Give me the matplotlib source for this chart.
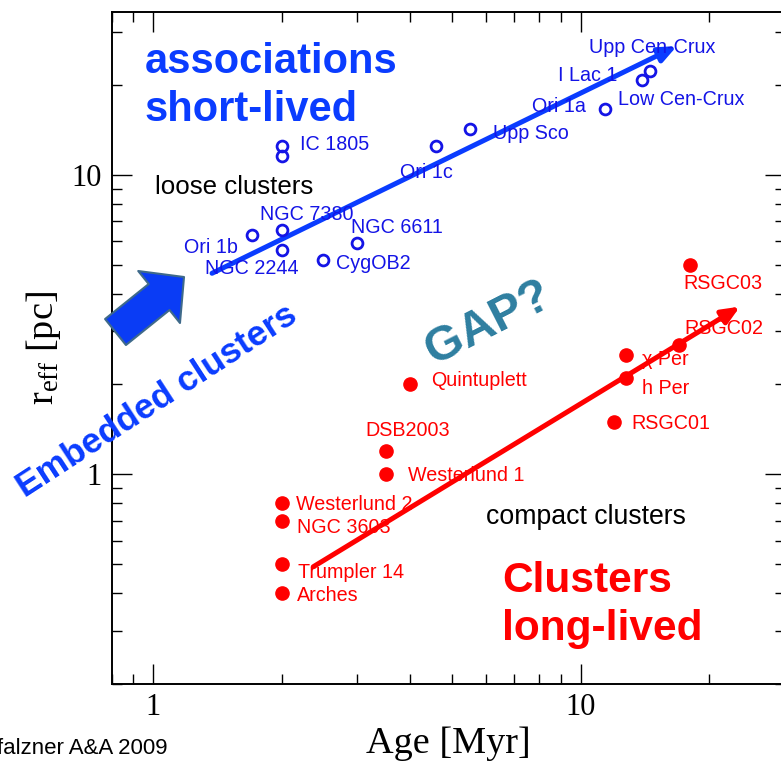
import matplotlib
matplotlib.use("Agg")
import matplotlib.pyplot as plt
from matplotlib.ticker import LogLocator, FuncFormatter, NullFormatter

plt.rcParams['mathtext.fontset'] = 'custom'
plt.rcParams['mathtext.rm'] = 'Liberation Serif'
plt.rcParams['mathtext.it'] = 'Liberation Serif:italic'

# loose clusters / associations (open circles)
assoc_age = [2.0, 2.0, 2.0, 1.7, 2.0, 2.5, 3.0, 4.6, 5.5, 11.4, 13.95, 14.5]
assoc_r = [12.5, 11.55, 6.55, 6.3, 5.6, 5.2, 5.9, 12.5, 14.2, 16.6, 20.7, 22.2]

# compact clusters (filled)
comp_age = [4.0, 3.5, 3.5, 2.0, 2.0, 2.0, 2.0, 18.0, 17.0, 12.8, 12.8, 12.0]
comp_r = [2.0, 1.2, 1.0, 0.8, 0.7, 0.5, 0.4, 5.0, 2.7, 2.5, 2.1, 1.5]

# name labels (left edge, vertical centre)
assoc_names = ["IC 1805", "NGC 7380", "Ori 1b", "NGC 2244", "CygOB2", "NGC 6611",
               "Ori 1c", "Upp Sco", "Ori 1a", "I Lac 1", "Low Cen-Crux", "Upp Cen-Crux"]
assoc_lab_age = [2.21, 1.78, 1.18, 1.325, 2.68, 2.91, 3.78, 6.25, 7.69, 8.87, 12.26, 10.49]
assoc_lab_r = [12.67, 7.38, 5.73, 4.87, 5.04, 6.68, 10.16, 13.76, 16.97, 21.54, 17.9, 26.65]

comp_names = ["Quintuplett", "DSB2003", "Westerlund 1", "Westerlund 2", "NGC 3603",
              "Trumpler 14", "Arches", "RSGC03", "RSGC02", "χ Per", "h Per", "RSGC01"]
comp_lab_age = [4.46, 3.13, 3.94, 2.157, 2.168, 2.187, 2.168, 17.4, 17.49, 13.91, 13.91, 13.18]
comp_lab_r = [2.05, 1.398, 0.987, 0.79, 0.665, 0.469, 0.3925, 4.34, 3.07, 2.41, 1.937, 1.48]

# trend arrows
assoc_trend_age = [1.374, 16.8]
assoc_trend_r = [4.69, 26.9]
comp_trend_age = [2.37, 23.6]
comp_trend_r = [0.491, 3.63]

BLUE = '#1414e6'
BBLUE = '#0a3cff'
RED = '#ff0000'
SANS = 'Liberation Sans'
SERIF = 'Liberation Serif'

fig = plt.figure(figsize=(7.81, 7.62), dpi=100)
ax = fig.add_axes([0.1429, 0.1029, 0.8616, 0.8815])
ax.set_xscale('log')
ax.set_yscale('log')
ax.set_xlim(0.8, 30)
ax.set_ylim(0.2, 35)

ax.plot(assoc_age, assoc_r, 'o', mfc='none', mec=BLUE, mew=2.0, ms=7.8, zorder=3)
ax.plot(comp_age, comp_r, 'o', color=RED, mec=RED, ms=9.5, zorder=3)

for n, x, y in zip(assoc_names, assoc_lab_age, assoc_lab_r):
    ax.text(x, y, n, color=BLUE, fontsize=14.2, family=SANS, ha='left', va='center')
for n, x, y in zip(comp_names, comp_lab_age, comp_lab_r):
    ax.text(x, y, n, color=RED, fontsize=14.2, family=SANS, ha='left', va='center')

ax.annotate('', xy=(assoc_trend_age[1], assoc_trend_r[1]),
            xytext=(assoc_trend_age[0], assoc_trend_r[0]),
            arrowprops=dict(arrowstyle='-|>,head_length=0.7,head_width=0.3', lw=3.6,
                            color=BBLUE, mutation_scale=15, shrinkA=0, shrinkB=0), zorder=2)
ax.annotate('', xy=(comp_trend_age[1], comp_trend_r[1]),
            xytext=(comp_trend_age[0], comp_trend_r[0]),
            arrowprops=dict(arrowstyle='-|>,head_length=0.7,head_width=0.3', lw=3.6,
                            color=RED, mutation_scale=15, shrinkA=0, shrinkB=0), zorder=2)

# big block arrow for embedded clusters
ax.annotate('', xy=(0.1076, 0.6053), xytext=(0.0058, 0.5234), xycoords='axes fraction',
            arrowprops=dict(arrowstyle='simple,head_length=23,head_width=48,tail_width=24',
                            mutation_scale=1, fc='#0a3cf5', ec='#3f6a8a', lw=1.5,
                            shrinkA=0, shrinkB=0), annotation_clip=False)

tr = ax.transAxes
ax.text(0.0496, 0.9259, 'associations', transform=tr, color=BBLUE, fontsize=30,
        fontweight='bold', family=SANS, va='center')
ax.text(0.0496, 0.854, 'short-lived', transform=tr, color=BBLUE, fontsize=30,
        fontweight='bold', family=SANS, va='center')
ax.text(0.0649, 0.7398, 'loose clusters', transform=tr, color='black', fontsize=18.6,
        family=SANS, va='center')
ax.text(0.5564, 0.2485, 'compact clusters', transform=tr, color='black', fontsize=19.2,
        family=SANS, va='center')
ax.text(0.5802, 0.1527, 'Clusters', transform=tr, color=RED, fontsize=30.5,
        fontweight='bold', family=SANS, va='center')
ax.text(0.5802, 0.0813, 'long-lived', transform=tr, color=RED, fontsize=30.5,
        fontweight='bold', family=SANS, va='center')
ax.text(0.5594, 0.5369, 'GAP?', transform=tr, color='#2e7ea0', fontsize=35,
        fontweight='bold', family=SANS, ha='center', va='center', rotation=27,
        rotation_mode='anchor')
ax.text(0.0675, 0.4207, 'Embedded clusters', transform=tr, color=BBLUE, fontsize=25.5,
        fontweight='bold', family=SANS, ha='center', va='center', rotation=33,
        rotation_mode='anchor', clip_on=False)

fmt = FuncFormatter(lambda v, p: '%g' % v)
for axis in (ax.xaxis, ax.yaxis):
    axis.set_major_locator(LogLocator(base=10))
    axis.set_minor_locator(LogLocator(base=10, subs=range(2, 10)))
    axis.set_major_formatter(fmt)
    axis.set_minor_formatter(NullFormatter())

ax.tick_params(which='both', direction='in', top=True, right=True, width=1.0)
ax.tick_params(which='major', length=14.4, labelsize=22, pad=7)
ax.tick_params(which='minor', length=7)
for lab in ax.get_xticklabels() + ax.get_yticklabels():
    lab.set_family(SERIF)
for s in ax.spines.values():
    s.set_linewidth(1.4)

ax.set_xlabel('Age [Myr]', fontsize=27.5, family=SERIF, labelpad=3)
ax.set_ylabel(r'r$_{\mathrm{eff}}$ [pc]', fontsize=27.5, family=SERIF, labelpad=6)

# credit line, clipped at the left edge as in the original slide
fig.text(168 / 781, 1 - 748 / 762, 'Pfalzner A&A 2009', fontsize=16, family=SANS,
         ha='right', va='center')

fig.savefig('out.png', dpi=100)
